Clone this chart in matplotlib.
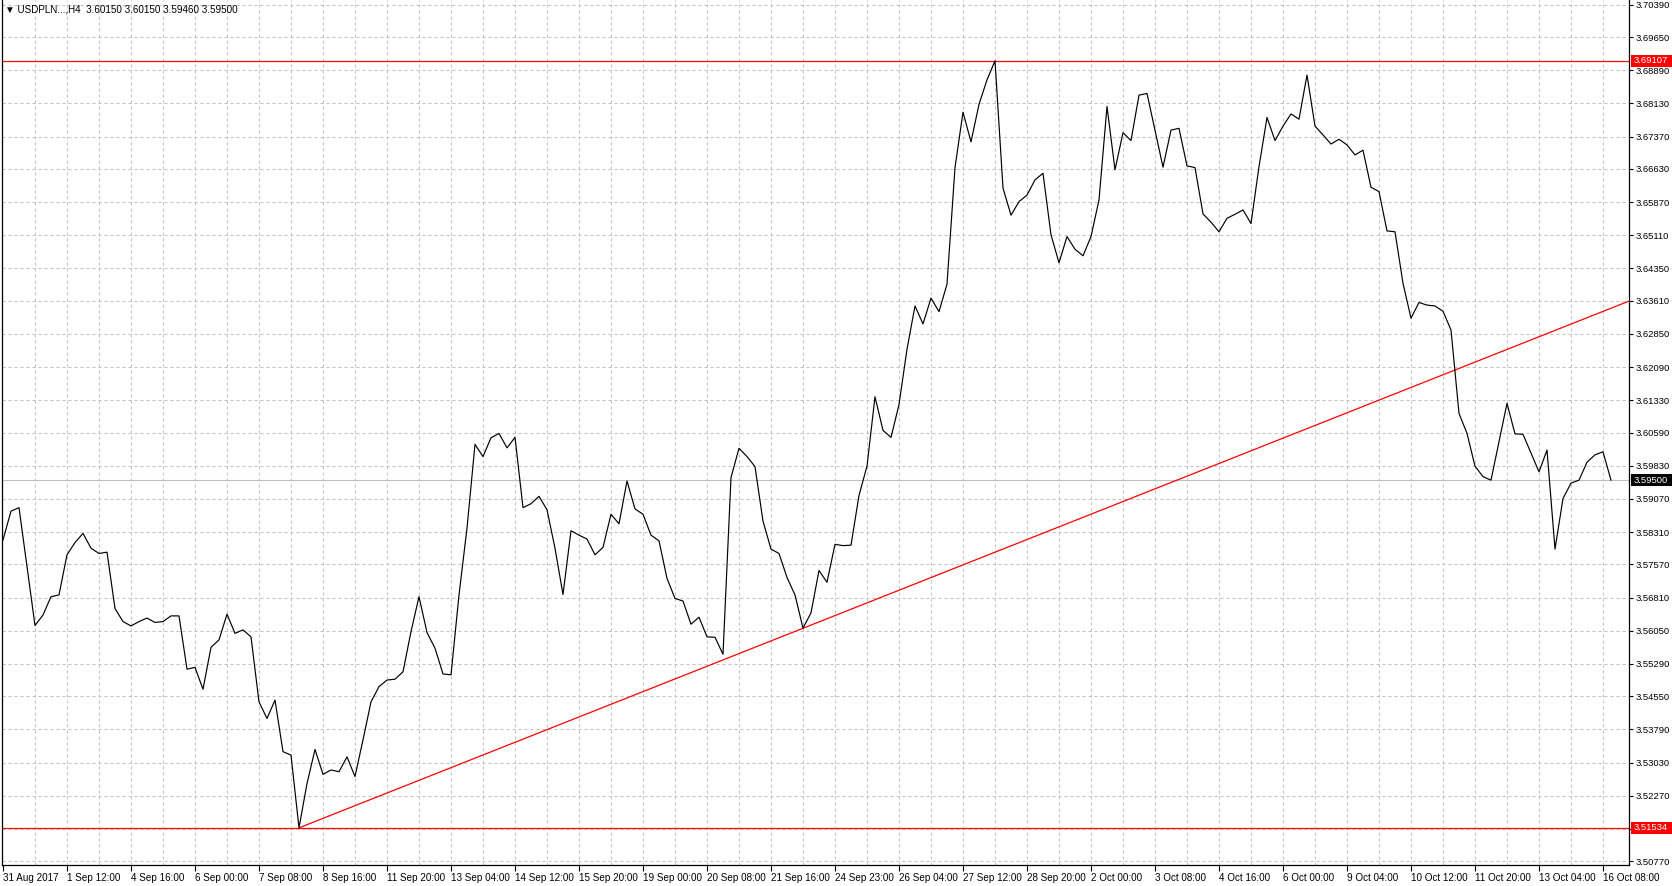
import numpy as np
import matplotlib.pyplot as plt
from matplotlib.patches import Rectangle
from matplotlib.transforms import blended_transform_factory

# USDPLN H4 close prices, one per bar (31 Aug 2017 04:00 .. 16 Oct 12:00)
close = [
    3.5813, 3.5879, 3.5887, 3.5752, 3.5617, 3.5641, 3.5683, 3.5687, 3.5779, 3.5807,
    3.5828, 3.5794, 3.5782, 3.5785, 3.5656, 3.5626, 3.5616, 3.5626, 3.5634, 3.5624,
    3.5626, 3.5639, 3.5639, 3.5517, 3.5521, 3.5471, 3.5567, 3.5584, 3.5643, 3.5599,
    3.5607, 3.5591, 3.5442, 3.5404, 3.5446, 3.5328, 3.5320, 3.51534, 3.5255, 3.5333,
    3.5276, 3.5286, 3.5282, 3.5316, 3.5271, 3.5355, 3.5442, 3.5477, 3.5492, 3.5494,
    3.5511, 3.5603, 3.5683, 3.5601, 3.5565, 3.5506, 3.5504, 3.5687, 3.5840, 3.6032,
    3.6004, 3.6047, 3.6057, 3.6024, 3.6048, 3.5887, 3.5896, 3.5913, 3.5882, 3.5794,
    3.5688, 3.5834, 3.5824, 3.5815, 3.5779, 3.5796, 3.5872, 3.5850, 3.5948, 3.5884,
    3.5872, 3.5824, 3.5811, 3.5725, 3.5679, 3.5673, 3.5620, 3.5636, 3.5591, 3.5590,
    3.5551, 3.5956, 3.6023, 3.6004, 3.5981, 3.5856, 3.5792, 3.5782, 3.5727, 3.5687,
    3.5611, 3.5646, 3.5743, 3.5716, 3.5803, 3.5800, 3.5801, 3.5915, 3.5982, 3.6141,
    3.6064, 3.6048, 3.6123, 3.6250, 3.6349, 3.6308, 3.6367, 3.6336, 3.6399, 3.6666,
    3.6793, 3.6725, 3.6811, 3.6867, 3.69107, 3.6619, 3.6557, 3.6588, 3.6603, 3.6638,
    3.6653, 3.6512, 3.6448, 3.6508, 3.6479, 3.6464, 3.6508, 3.6592, 3.6806, 3.6661,
    3.6746, 3.6728, 3.6832, 3.6836, 3.6752, 3.6667, 3.6752, 3.6756, 3.6670, 3.6666,
    3.6560, 3.6541, 3.6519, 3.6550, 3.6559, 3.6569, 3.6538, 3.6668, 3.6781, 3.6728,
    3.6761, 3.6789, 3.6777, 3.6878, 3.6761, 3.6741, 3.6720, 3.6731, 3.6718, 3.6695,
    3.6706, 3.6621, 3.6611, 3.6521, 3.6519, 3.6401, 3.6321, 3.6357, 3.6351, 3.6349,
    3.6337, 3.6294, 3.6103, 3.6057, 3.5982, 3.5958, 3.5950, 3.6038, 3.6126, 3.6056,
    3.6055, 3.6012, 3.5969, 3.6019, 3.5792, 3.5908, 3.5943, 3.5950, 3.5991, 3.6008,
    3.6015, 3.5950,
]

time_labels = [
    '31 Aug 2017', '1 Sep 12:00', '4 Sep 16:00', '6 Sep 00:00', '7 Sep 08:00',
    '8 Sep 16:00', '11 Sep 20:00', '13 Sep 04:00', '14 Sep 12:00', '15 Sep 20:00',
    '19 Sep 00:00', '20 Sep 08:00', '21 Sep 16:00', '24 Sep 23:00', '26 Sep 04:00',
    '27 Sep 12:00', '28 Sep 20:00', '2 Oct 00:00', '3 Oct 08:00', '4 Oct 16:00',
    '6 Oct 00:00', '9 Oct 04:00', '10 Oct 12:00', '11 Oct 20:00', '13 Oct 04:00',
    '16 Oct 08:00',
]

price_levels = [
    3.70390, 3.69650, 3.68890, 3.68130, 3.67370, 3.66630, 3.65870, 3.65110,
    3.64350, 3.63610, 3.62850, 3.62090, 3.61330, 3.60590, 3.59830, 3.59070,
    3.58310, 3.57570, 3.56810, 3.56050, 3.55290, 3.54550, 3.53790, 3.53030,
    3.52270, 3.51510, 3.50770,
]
hidden_level = 3.51510   # covered by the red support label

resistance = 3.69107
support = 3.51534
trend_a = (37, 3.51534)
trend_b = (100, 3.56107)
last_price = 3.59500
header = "\u25BC USDPLN...,H4  3.60150 3.60150 3.59460 3.59500"

# ---- layout (MT4 style: 8 px per bar) ----
W, H = 1672, 886
fig = plt.figure(figsize=(W / 100, H / 100), dpi=100)
fig.patch.set_facecolor('white')
ax = fig.add_axes([2 / W, (H - 865) / H, (1629 - 2) / W, 865 / H])

ax.set_xlim(-0.125, 203.25)
ax.set_ylim(3.50683, 3.70500)

grid_c = '#c0c0c0'
font = ['Liberation Sans', 'DejaVu Sans']
fs_x = 7.1
fs_y = 6.8

# grid
for b in range(4, 204, 4):
    ax.axvline(b, color=grid_c, lw=0.72, ls=(0, (3, 3)), zorder=0)
for lv in price_levels:
    ax.axhline(lv, color=grid_c, lw=0.72, ls=(0, (3, 3)), zorder=0)

# last price line
ax.axhline(last_price, color=grid_c, lw=0.8, zorder=1)

# support/resistance
ax.axhline(resistance, color='red', lw=0.9, zorder=2)
ax.axhline(support, color='red', lw=0.9, zorder=2)

# trendline (ray to the right)
slope = (trend_b[1] - trend_a[1]) / (trend_b[0] - trend_a[0])
x_end = ax.get_xlim()[1]
ax.plot([trend_a[0], x_end], [trend_a[1], trend_a[1] + slope * (x_end - trend_a[0])],
        color='red', lw=0.9, zorder=2, solid_capstyle='butt')

# price line
ax.plot(np.arange(len(close)), close, color='black', lw=0.85, zorder=3)

# axes
ax.spines['top'].set_visible(False)
for s in ['left', 'right', 'bottom']:
    ax.spines[s].set_color('black')
    ax.spines[s].set_linewidth(0.9)

ax.yaxis.tick_right()
ax.set_yticks(price_levels)
ax.set_yticklabels(['' if lv == hidden_level else f'{lv:.5f}' for lv in price_levels],
                   fontsize=fs_y, family=font)
ax.tick_params(axis='y', direction='out', length=3, width=0.8, pad=2, colors='black')

ax.set_xticks(np.arange(0, 8 * len(time_labels), 8))
ax.set_xticklabels(time_labels, fontsize=fs_x, family=font)
for lbl in ax.get_xticklabels():
    lbl.set_horizontalalignment('left')
ax.tick_params(axis='x', direction='out', length=4, width=0.8, pad=2, colors='black')

# price tags on the right axis
tr = blended_transform_factory(fig.transFigure, ax.transData)
box_h = 12 / 4365
for val, col in [(resistance, 'red'), (support, 'red'), (last_price, 'black')]:
    ax.add_patch(Rectangle((1631 / W, val - box_h / 2), (W - 1631) / W, box_h,
                           transform=tr, facecolor=col, edgecolor='none',
                           clip_on=False, zorder=5))
    ax.text(1634 / W, val, f'{val:.5f}', transform=tr, color='white',
            fontsize=fs_y, family=font, ha='left', va='center', zorder=6, clip_on=False)

# header
fig.text(5 / W, 1 - 10 / H, header, fontsize=fs_x, family=font, ha='left', va='center',
         color='black')

fig.savefig('out.png', dpi=100, facecolor='white')
